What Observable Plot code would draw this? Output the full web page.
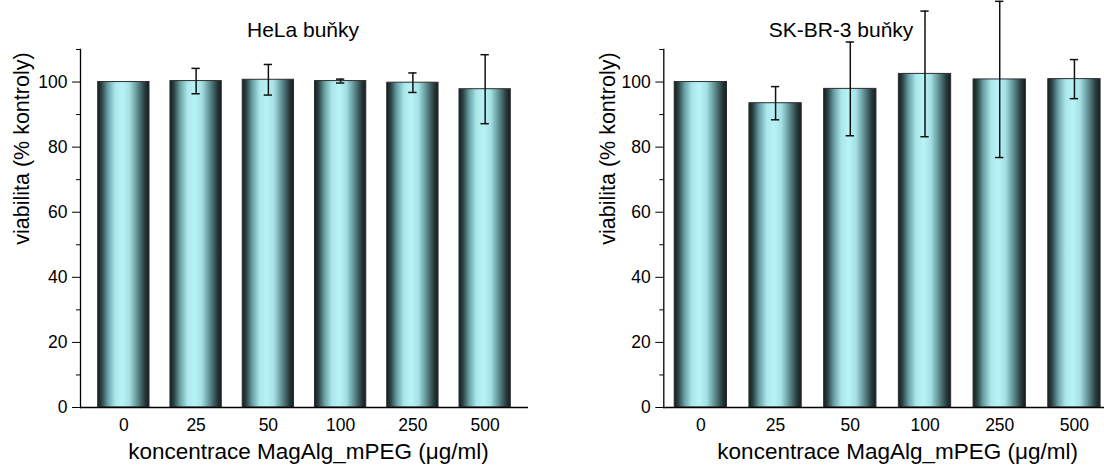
<!DOCTYPE html>
<html><head><meta charset="utf-8">
<script src="https://cdn.jsdelivr.net/npm/d3@7"></script>
<script src="https://cdn.jsdelivr.net/npm/@observablehq/plot@0.6"></script>
<style>
html,body{margin:0;padding:0;background:#fff;}
#wrap{position:relative;width:1104px;height:470px;overflow:hidden;font-family:"Liberation Sans",Arial,sans-serif;}
.panel{position:absolute;top:0;}
.panel svg{max-width:none !important;}
.panel g[aria-label$="tick label"]{font-size:17.5px;}
.title{position:absolute;top:19px;font-size:21px;line-height:21px;white-space:nowrap;transform:translateX(-50%);color:#000;}
</style></head><body><div id="wrap"></div>
<script>
const concentrations = ["0", "25", "50", "100", "250", "500"];
const helaMeans  = [100, 100.3, 100.7, 100.3, 99.8, 97.8];
const helaErrors = [0, 3.9, 4.7, 0.6, 3.0, 10.6];
const skbrMeans  = [100, 93.5, 97.9, 102.5, 100.8, 100.9];
const skbrErrors = [0, 5.1, 14.4, 19.3, 24.0, 6.0];
const yMajorTicks = [0, 20, 40, 60, 80, 100];
const yMinorTicks = [10, 30, 50, 70, 90, 110];
const panelTitles = ["HeLa buňky", "SK-BR-3 buňky"];
const yLabel = "viabilita (% kontroly)";
const xLabel = "koncentrace MagAlg_mPEG (μg/ml)";

const FONT = "Liberation Sans, Arial, sans-serif";
const gradientStops = [
  [0, "#141d1e"], [0.08, "#2c4446"], [0.2, "#6aa3a7"], [0.34, "#aae6ea"],
  [0.48, "#b8f3f7"], [0.62, "#a4e0e4"], [0.78, "#5c8b8e"], [0.92, "#283a3c"], [1, "#141d1e"]
];

function makePanel(o) {
  const data = concentrations.map((c, i) => ({c, v: o.means[i], e: o.errors[i]}));
  const errData = data.filter(d => d.e > 0);
  const capInset = o.capInset;
  const errStyle = {stroke: "#111", strokeWidth: 1.5};
  const svg = Plot.plot({
    width: o.width, height: 470,
    marginTop: 49, marginBottom: 63, marginLeft: o.marginLeft, marginRight: o.marginRight,
    style: {fontFamily: FONT, fontSize: "17.5px", color: "#000", background: "transparent", overflow: "visible"},
    x: {type: "band", domain: concentrations, paddingInner: o.paddingInner, paddingOuter: o.paddingOuter, round: false, label: null},
    y: {domain: [0, 110], label: null},
    marks: [
      Plot.barY(data, {x: "c", y: "v", fill: `url(#${o.gradId})`, stroke: "#2e2e2e", strokeWidth: 1}),
      Plot.ruleX(errData, {x: "c", y1: d => d.v - d.e, y2: d => d.v + d.e, ...errStyle}),
      Plot.tickY(errData, {x: "c", y: d => d.v - d.e, insetLeft: capInset, insetRight: capInset, ...errStyle}),
      Plot.tickY(errData, {x: "c", y: d => d.v + d.e, insetLeft: capInset, insetRight: capInset, ...errStyle}),
      Plot.frame({anchor: "left", stroke: "#000", strokeWidth: 1.3}),
      Plot.ruleY([0], {stroke: "#000", strokeWidth: 1.3}),
      Plot.axisY({ticks: yMajorTicks, tickSize: 8, tickPadding: 5, fontSize: 17.5, label: null, stroke: "#000"}),
      Plot.axisY({ticks: yMinorTicks, tickSize: 4, tickFormat: () => "", label: null, stroke: "#000"}),
      Plot.axisX({tickSize: 0, tickPadding: 11, fontSize: 17.5, label: null}),
      Plot.text([yLabel], {y: () => 50, frameAnchor: "left", dx: o.yLabelDx, rotate: -90, fontSize: 21.5, fill: "#000"}),
      Plot.text([xLabel], {frameAnchor: "bottom", dy: 51, dx: o.xLabelDx, fontSize: 22.5, fill: "#000"})
    ]
  });
  svg.style.maxWidth = "none";
  const defs = d3.select(svg).insert("defs", ":first-child");
  const g = defs.append("linearGradient").attr("id", o.gradId)
    .attr("x1", "0").attr("x2", "1").attr("y1", "0").attr("y2", "0");
  gradientStops.forEach(([off, col]) => g.append("stop").attr("offset", off).attr("stop-color", col));
  const div = document.createElement("div");
  div.className = "panel";
  div.style.left = o.left + "px";
  div.style.width = o.width + "px";
  div.appendChild(svg);
  const t = document.createElement("div");
  t.className = "title";
  t.style.left = o.titleX + "px";
  t.textContent = o.title;
  const wrap = document.getElementById("wrap");
  wrap.appendChild(div);
  wrap.appendChild(t);
}

makePanel({means: helaMeans, errors: helaErrors, gradId: "gradA", left: 0, width: 552,
  marginLeft: 80, marginRight: 24, paddingInner: 0.29, paddingOuter: 0.245, capInset: 21.5,
  yLabelDx: -58, xLabelDx: 4, title: panelTitles[0], titleX: 303});
makePanel({means: skbrMeans, errors: skbrErrors, gradId: "gradB", left: 552, width: 564,
  marginLeft: 111.3, marginRight: 5, paddingInner: 0.30, paddingOuter: 0.146, capInset: 22,
  yLabelDx: -56, xLabelDx: 10, title: panelTitles[1], titleX: 841});
</script></body></html>
